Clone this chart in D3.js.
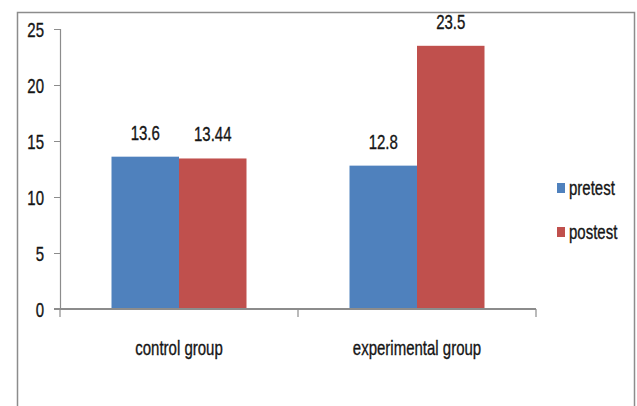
<!DOCTYPE html>
<html>
<head>
<meta charset="utf-8">
<script src="https://cdn.jsdelivr.net/npm/d3@7"></script>
<style>
  html, body { margin: 0; padding: 0; background: #fff; }
  svg { display: block; }
  text { font-family: "Liberation Sans", Arial, sans-serif; fill: #151515; stroke: #151515; stroke-width: 0.35px; }
</style>
</head>
<body>
<svg id="chart" width="637" height="406"></svg>
<script>
// Scores by group
const categories = ["control group", "experimental group"];
const seriesNames = ["pretest", "postest"];
const pretest = [13.6, 12.8];
const postest = [13.44, 23.5];
const valueLabels = [["13.6", "13.44"], ["12.8", "23.5"]];
const yTicks = [0, 5, 10, 15, 20, 25];
const colors = ["#4F81BD", "#C0504D"];

const svg = d3.select("#chart");
const FS = 20, SX = 0.75;   // condensed lettering: font size and horizontal squeeze
const narrow = (x, yy) => `translate(${x},${yy}) scale(${SX},1)`;

// outer frame
svg.append("rect")
  .attr("x", 17.5).attr("y", 12.5)
  .attr("width", 617).attr("height", 400)
  .attr("fill", "none").attr("stroke", "#8c8c8c").attr("stroke-width", 1.5);

const plot = { left: 60, right: 536, top: 29, bottom: 309 };

const x0 = d3.scaleBand().domain(categories).range([plot.left, plot.right]);
const x1 = d3.scaleBand().domain(seriesNames).range([0, x0.bandwidth()]).paddingInner(0).paddingOuter(0.763);
const y = d3.scaleLinear().domain([0, 25]).range([plot.bottom, plot.top]);

const rows = categories.map((c, i) => ({ cat: c, vals: [pretest[i], postest[i]], labels: valueLabels[i] }));

// bars and their value labels
const g = svg.append("g");
rows.forEach(r => {
  seriesNames.forEach((s, j) => {
    g.append("rect")
      .attr("x", x0(r.cat) + x1(s))
      .attr("y", y(r.vals[j]))
      .attr("width", x1.bandwidth())
      .attr("height", y(0) - y(r.vals[j]))
      .attr("fill", colors[j]);
    g.append("text")
      .attr("transform", narrow(x0(r.cat) + x1(s) + x1.bandwidth() / 2, y(r.vals[j]) - 17))
      .attr("text-anchor", "middle")
      .attr("font-size", FS)
      .text(r.labels[j]);
  });
});

// y axis
const yAxis = d3.axisLeft(y).tickValues(yTicks).tickSize(6).tickFormat(d3.format("d"));
const ya = svg.append("g").attr("transform", `translate(${plot.left},0)`).call(yAxis);
ya.select(".domain").attr("stroke", "#8c8c8c").attr("stroke-width", 1.2);
ya.selectAll(".tick line").attr("stroke", "#8c8c8c");
ya.selectAll(".tick text")
  .attr("x", null).attr("dy", null)
  .attr("transform", narrow(-16, 7))
  .attr("font-size", FS);
ya.attr("font-family", null).attr("font-size", null);

// x axis with category boundary ticks
const xa = svg.append("g");
xa.append("line")
  .attr("x1", plot.left - 6).attr("x2", plot.right)
  .attr("y1", plot.bottom).attr("y2", plot.bottom)
  .attr("stroke", "#8c8c8c").attr("stroke-width", 2);
const bounds = categories.map(c => x0(c)).concat([x0(categories[categories.length - 1]) + x0.bandwidth()]);
xa.selectAll("line.b").data(bounds).join("line")
  .attr("class", "b")
  .attr("x1", d => d).attr("x2", d => d)
  .attr("y1", plot.bottom).attr("y2", plot.bottom + 8)
  .attr("stroke", "#8c8c8c").attr("stroke-width", 1.2);
xa.selectAll("text").data(categories).join("text")
  .attr("transform", d => narrow(x0(d) + x0.bandwidth() / 2, 355))
  .attr("text-anchor", "middle")
  .attr("font-size", FS)
  .text(d => d);

// legend
const lg = svg.append("g");
seriesNames.forEach((s, j) => {
  const cy = 188 + j * 44;
  lg.append("rect").attr("x", 557).attr("y", cy - 5).attr("width", 8).attr("height", 10).attr("fill", colors[j]);
  lg.append("text").attr("transform", narrow(569, cy + 7)).attr("font-size", FS).text(s);
});
</script>
</body>
</html>
